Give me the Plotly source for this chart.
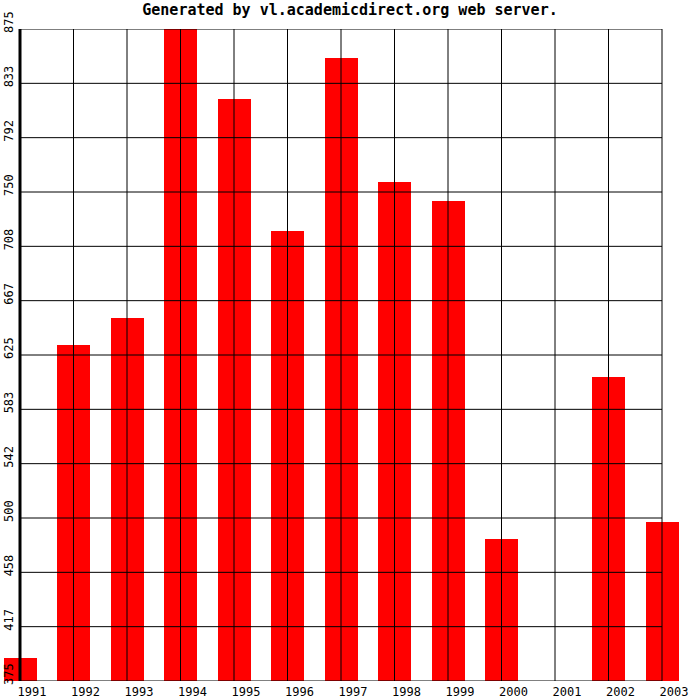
import plotly.graph_objects as go

years = [1991, 1992, 1993, 1994, 1995, 1996, 1997, 1998, 1999, 2000, 2001, 2002, 2003]
values = [393, 633, 653, 876, 821, 720, 853, 758, 743, 484, None, 608, 497]
y_ticks = [375 + 500 * k / 12 for k in range(13)]
y_tick_labels = ["375", "417", "458", "500", "542", "583", "625", "667", "708", "750", "792", "833", "875"]
x_tick_labels = [str(y) for y in years]
title_text = "Generated by vl.academicdirect.org web server."

FONT = "DejaVu Sans Mono"

fig = go.Figure()
fig.add_trace(go.Bar(
    x=years, y=values, width=0.617,
    marker=dict(color="#FF0000", line=dict(width=0)),
))

shapes = []
for v in y_ticks:
    shapes.append(dict(type="line", xref="x", yref="y", x0=years[0], x1=years[-1], y0=v, y1=v,
                       line=dict(color="black", width=1), layer="above"))
for yr in years[1:]:
    shapes.append(dict(type="line", xref="x", yref="y", x0=yr, x1=yr, y0=y_ticks[0], y1=y_ticks[-1],
                       line=dict(color="black", width=1), layer="above"))
shapes.append(dict(type="line", xref="x", yref="y", x0=years[0], x1=years[0], y0=y_ticks[0] - 2, y1=y_ticks[-1],
                   line=dict(color="black", width=3), layer="above"))
shapes.append(dict(type="line", xref="x", yref="y", x0=years[0], x1=years[-1], y0=y_ticks[0] - 1.5, y1=y_ticks[0] - 1.5,
                   line=dict(color="black", width=3), layer="above"))

px_per_year = 53.5
x_left = years[0] - 19 / px_per_year
x_right = x_left + 680 / px_per_year

fig.update_layout(
    width=700, height=700,
    margin=dict(l=1, r=19, t=29, b=19),
    paper_bgcolor="white", plot_bgcolor="white",
    showlegend=False,
    shapes=shapes,
    title=dict(text="<b>" + title_text + "</b>", x=0.5, xanchor="center", y=1 - 10 / 700, yanchor="middle",
               font=dict(family=FONT, size=15, color="black")),
    xaxis=dict(range=[x_left, x_right], tickmode="array", tickvals=years, ticktext=x_tick_labels,
               showgrid=False, zeroline=False, showline=False, ticks="",
               tickfont=dict(family=FONT, size=12, color="black"), ticklabelshift=12, ticklabelstandoff=2),
    yaxis=dict(range=[375, 875], tickmode="array", tickvals=y_ticks, ticktext=y_tick_labels,
               showgrid=False, zeroline=False, showline=False, ticks="",
               tickangle=-90, ticklabelposition="inside", ticklabeloverflow="allow",
               ticklabelstandoff=-5,
               tickfont=dict(family=FONT, size=12, color="black"), ticklabelshift=-5),
    bargap=0,
)

fig.write_html("out.html", config={"displayModeBar": False},
               post_script="document.body.style.margin='0';document.body.style.padding='0';")
